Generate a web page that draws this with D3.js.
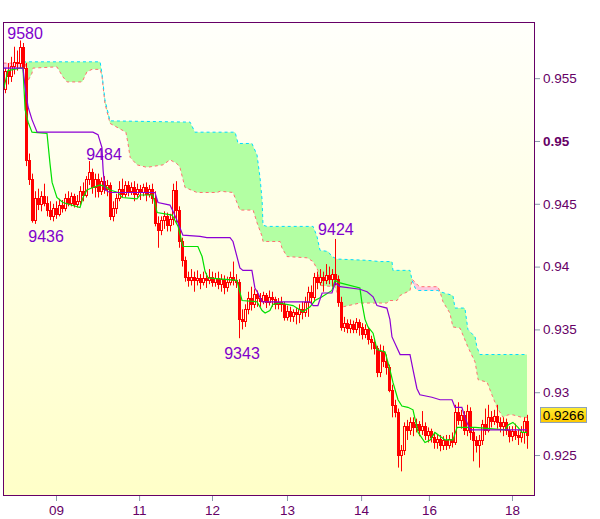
<!DOCTYPE html>
<html><head><meta charset="utf-8">
<script src="https://cdn.jsdelivr.net/npm/d3@7"></script>
<style>body{margin:0;background:#fff;} svg{display:block;font-family:"Liberation Sans",Arial,sans-serif;}</style>
</head><body><svg id="c" width="600" height="519"></svg>
<script>
// ---- data (prices in pips, i.e. price x 10000) ----
const openPips = [9541,9556,9552,9560,9563,9562,9575,9558,9485,9470,9437,9455,9450,9456,9451,9445,9440,9447,9442,9449,
9447,9455,9451,9456,9450,9452,9460,9457,9470,9475,9463,9470,9460,9468,9462,9465,9440,9447,9455,9462,
9458,9465,9460,9463,9458,9462,9459,9463,9458,9462,9455,9435,9429,9437,9440,9433,9438,9461,9445,9420,
9405,9392,9389,9392,9389,9391,9388,9391,9389,9392,9388,9391,9386,9390,9384,9388,9392,9389,9388,9358,
9357,9366,9375,9370,9378,9375,9373,9377,9372,9376,9374,9370,9372,9370,9360,9365,9361,9364,9362,9366,
9364,9372,9380,9376,9392,9388,9392,9389,9393,9390,9394,9390,9372,9352,9355,9351,9354,9350,9356,9352,
9346,9350,9342,9340,9335,9316,9333,9325,9320,9302,9290,9284,9250,9254,9273,9270,9276,9272,9275,9270,
9273,9266,9269,9264,9260,9263,9258,9262,9258,9263,9260,9284,9278,9282,9270,9285,9268,9262,9258,9262,
9275,9270,9280,9277,9281,9276,9273,9276,9270,9265,9269,9266,9264,9268,9277];
const highPips = [9558,9562,9567,9575,9572,9580,9578,9562,9490,9474,9460,9462,9460,9466,9456,9452,9450,9452,9454,9453,
9458,9460,9459,9458,9457,9464,9467,9472,9484,9478,9474,9474,9471,9472,9469,9467,9452,9458,9468,9470,
9468,9468,9467,9468,9466,9465,9466,9467,9465,9466,9460,9440,9440,9444,9443,9442,9466,9468,9448,9423,
9408,9396,9398,9396,9397,9394,9396,9395,9398,9396,9395,9396,9394,9393,9392,9396,9404,9394,9390,9366,
9370,9380,9384,9382,9381,9379,9380,9379,9381,9380,9376,9375,9376,9372,9369,9368,9366,9367,9370,9372,
9376,9384,9385,9395,9396,9398,9396,9402,9400,9398,9422,9393,9376,9360,9358,9358,9357,9359,9358,9355,
9354,9352,9345,9343,9337,9338,9337,9330,9322,9306,9294,9287,9258,9276,9278,9280,9280,9279,9277,9285,
9276,9272,9271,9268,9266,9266,9265,9266,9266,9268,9290,9292,9286,9285,9290,9288,9272,9265,9266,9278,
9287,9290,9285,9286,9290,9280,9280,9279,9273,9273,9275,9270,9273,9280,9282];
const lowPips = [9538,9545,9547,9553,9556,9558,9548,9480,9465,9435,9434,9445,9444,9448,9440,9437,9436,9438,9440,9443,
9444,9448,9448,9447,9447,9449,9452,9455,9465,9458,9455,9455,9457,9458,9456,9437,9436,9442,9452,9455,
9455,9456,9457,9452,9455,9453,9456,9452,9455,9450,9432,9415,9425,9430,9428,9428,9433,9435,9415,9400,
9388,9384,9385,9380,9385,9382,9385,9383,9386,9384,9384,9382,9380,9378,9380,9385,9385,9383,9343,9350,
9352,9362,9365,9367,9368,9368,9370,9367,9369,9368,9366,9366,9364,9357,9357,9356,9356,9354,9355,9358,
9360,9360,9371,9373,9382,9385,9380,9386,9386,9384,9385,9368,9349,9348,9347,9347,9347,9347,9345,9342,
9343,9338,9334,9330,9312,9312,9320,9314,9300,9280,9280,9240,9237,9250,9262,9266,9265,9268,9265,9266,
9262,9260,9260,9255,9255,9253,9254,9254,9255,9256,9258,9274,9271,9266,9265,9262,9245,9252,9240,9258,
9266,9268,9272,9274,9271,9268,9265,9266,9260,9261,9262,9258,9260,9259,9255];
const closePips = [9556,9552,9560,9563,9562,9575,9558,9485,9470,9437,9455,9450,9456,9451,9445,9440,9447,9442,9449,9447,
9455,9451,9456,9450,9452,9460,9457,9470,9475,9463,9470,9460,9468,9462,9465,9440,9447,9455,9462,9458,
9465,9460,9463,9458,9462,9459,9463,9458,9462,9455,9435,9429,9437,9440,9433,9438,9461,9445,9420,9405,
9392,9389,9392,9389,9391,9388,9391,9389,9392,9388,9391,9386,9390,9384,9388,9392,9389,9388,9358,9357,
9366,9375,9370,9378,9375,9373,9377,9372,9376,9374,9370,9372,9370,9360,9365,9361,9364,9362,9366,9364,
9372,9380,9376,9392,9388,9392,9389,9393,9390,9394,9390,9372,9352,9355,9351,9354,9350,9356,9352,9346,
9350,9342,9340,9335,9316,9333,9325,9320,9302,9290,9284,9250,9254,9273,9270,9276,9272,9275,9270,9273,
9266,9269,9264,9260,9263,9258,9262,9258,9263,9260,9284,9278,9282,9270,9285,9268,9262,9258,9262,9275,
9270,9280,9277,9281,9276,9273,9276,9270,9265,9269,9266,9264,9268,9277,9266];

// indicator lines: [bar index, pips]
const tenkanPts = [[-0.5,9541],[1,9556],[5,9558],[6,9558],[6.7,9525],[7.7,9515],[9,9507],[14,9506],[15,9482],[15.7,9467],
[17.3,9455],[19.3,9451],[25,9447],[26,9455],[27.3,9461],[29.3,9463],[31.7,9465],[34,9463],[35,9461],[37.7,9459],[39,9455],
[44,9454],[45,9457],[49.3,9457],[50.7,9443],[55.7,9441],[57.7,9432],[59.3,9416],[64.3,9416],[65.7,9408],[66.7,9396],
[67.7,9391],[77.3,9389],[79,9373],[84,9372],[85.7,9365],[86.7,9363],[88.3,9365],[89.3,9370],[91.7,9371],[96,9369],
[99.3,9364],[101.7,9368],[103.3,9373],[105.7,9376],[109,9381],[110,9389],[111.7,9387],[118.3,9383],[119,9371],[120,9358],
[121,9352],[122.7,9347],[124,9334],[126.7,9332],[128.3,9318],[129.3,9308],[131,9294],[132.3,9289],[134.3,9288],[136,9286],
[137.7,9268],[140,9260],[141.7,9262],[143.3,9268],[145,9265],[146.7,9262],[149.3,9262],[150.7,9272],[156.7,9272],
[166.7,9270],[167.7,9274],[169.3,9276],[171,9272],[172.3,9268],[174,9268]];
const kijunPts = [[-0.5,9558],[6,9558],[6.7,9543],[7.7,9527],[9,9517],[10.7,9507],[29.3,9507],[31,9505],[32.3,9495],
[32.7,9477],[33.3,9461],[35,9459],[50,9459],[51,9451],[55,9449],[56,9444],[57.3,9437],[59.3,9425],[65,9424],[67.3,9423],
[75,9423],[76,9420],[78.3,9399],[79.3,9397],[82.3,9397],[83.3,9383],[84.3,9379],[85.7,9372],[101.7,9372],[102.7,9369],
[104.3,9369],[105.7,9379],[109,9379],[110,9387],[111.7,9384],[118.3,9382],[120.7,9380],[122.7,9376],[124,9369],
[127.3,9367],[128.3,9358],[129,9344],[131.7,9330],[135,9330],[136,9318],[137.3,9303],[138.3,9298],[142.3,9296],
[145,9294],[149,9294],[150,9288],[152.3,9288],[153.3,9280],[155,9270],[174,9270]];
const spanAPts = [[-0.5,9558],[6,9558],[6.7,9563],[31.7,9563],[32.3,9554],[33.3,9533],[35,9516],[61.7,9515],[63.3,9507],
[76.7,9507],[77.7,9498],[82.3,9498],[84,9489],[85,9471],[85.7,9453],[86,9433],[87.3,9432],[102.7,9432],[104,9424],
[105,9413],[107.7,9412],[109,9408],[110.7,9406],[120.7,9405],[125,9404],[129,9404],[129.3,9397],[135,9397],[135.7,9389],
[136.7,9383],[137.7,9381],[144.3,9381],[145,9380],[149.3,9377],[150,9367],[153.3,9367],[154.3,9350],[156.7,9344],
[157.3,9336],[158.3,9330],[174,9330]];
const spanBPts = [[-0.5,9562],[6,9562],[6.7,9563],[7.7,9548],[9,9554],[9.3,9558],[17.3,9559],[19.3,9551],[20.7,9547],
[25.7,9547],[27.3,9555],[29,9557],[31.7,9557],[32.3,9552],[33.3,9530],[35,9514],[40.3,9507],[41,9498],[41.7,9487],
[44,9481],[47.3,9479],[52.7,9481],[55,9485],[57.3,9482],[58.3,9479],[60,9463],[64,9459],[70.7,9459],[71.7,9460],
[76,9459],[77.3,9451],[78.3,9445],[82.7,9445],[84,9435],[85.7,9424],[86,9420],[91.7,9420],[92.3,9415],[94,9408],
[100.7,9407],[102.7,9404],[104.3,9397],[105,9385],[110,9384],[111.7,9373],[112.7,9368],[118.3,9371],[127.3,9371],
[128.3,9373],[130.7,9373],[131.7,9377],[135,9381],[135.7,9390],[137.7,9385],[138.3,9384],[144.3,9384],[145,9380],
[146,9372],[148.3,9363],[149.3,9352],[151.7,9351],[154.3,9336],[156.7,9324],[157.7,9310],[160.7,9308],[162.3,9298],
[164,9288],[166,9280],[167.7,9282],[169.3,9282],[172.3,9280],[174,9280]];

const yTicks = [0.925,0.93,0.935,0.94,0.945,0.95,0.955];
const xTickIdx = [17,44.7,69,94,118.7,141.3,169];
const xTickLabels = ["09","11","12","13","14","16","18"];
// annotations: text, bar index (centre), price, vertical offset direction
const annText = ["9580","9484","9436","9424","9343"];
const annIdx = [6.7,33,13.7,110.3,79];
const annPips = [9580,9484,9436,9424,9343];
const annBelow = [false,false,true,false,true];
const lastPrice = 0.9266;

// ---- drawing ----
const P = 1e-4;
const L = 3, T = 22, R = 535, B = 496;
const svg = d3.select("#c");
const x = d3.scaleLinear().domain([-0.667, 176.667]).range([L, R]);
const y = d3.scaleLinear().domain([0.92174, 0.95947]).range([B, T]);

const defs = svg.append("defs");
const bg = defs.append("linearGradient").attr("id","bg").attr("gradientUnits","userSpaceOnUse")
  .attr("x1",0).attr("y1",T).attr("x2",0).attr("y2",B);
bg.append("stop").attr("offset","0").attr("stop-color","#fffffb");
bg.append("stop").attr("offset","1").attr("stop-color","#ffffc8");
const gold = defs.append("linearGradient").attr("id","gold").attr("x1",0).attr("y1",0).attr("x2",0).attr("y2",1);
gold.append("stop").attr("offset","0").attr("stop-color","#ffee33");
gold.append("stop").attr("offset","1").attr("stop-color","#ffc800");
defs.append("clipPath").attr("id","plot").append("rect").attr("x",L).attr("y",T).attr("width",R-L).attr("height",B-T);

const lineOf = d3.line().x(d=>x(d[0])).y(d=>y(d[1]*P));
const aboveArea = d3.area().x(d=>x(d[0])).y0(T).y1(d=>y(d[1]*P));
const belowArea = d3.area().x(d=>x(d[0])).y0(B).y1(d=>y(d[1]*P));
defs.append("clipPath").attr("id","aboveB").append("path").attr("d", aboveArea(spanBPts));
defs.append("clipPath").attr("id","aboveA").append("path").attr("d", aboveArea(spanAPts));

svg.append("rect").attr("x",L).attr("y",T).attr("width",R-L).attr("height",B-T).attr("fill","url(#bg)");

const g = svg.append("g").attr("clip-path","url(#plot)");
g.append("path").attr("d", belowArea(spanAPts)).attr("fill","#b3ffa3").attr("clip-path","url(#aboveB)");
g.append("path").attr("d", belowArea(spanBPts)).attr("fill","#ffc8de").attr("clip-path","url(#aboveA)");
g.append("path").attr("d", lineOf(spanBPts)).attr("fill","none").attr("stroke","#ff6f6f").attr("stroke-width",1).attr("stroke-dasharray","3,3");
g.append("path").attr("d", lineOf(spanAPts)).attr("fill","none").attr("stroke","#00dcff").attr("stroke-width",1).attr("stroke-dasharray","3,3");

const bars = d3.range(closePips.length).map(i => ({i, o:openPips[i]*P, h:highPips[i]*P, l:lowPips[i]*P, c:closePips[i]*P}));
const cg = g.append("g");
bars.forEach(d => {
  const cx = Math.round(x(d.i)) + 0.5;
  cg.append("line").attr("x1",cx).attr("x2",cx).attr("y1",y(d.h)).attr("y2",y(d.l)).attr("stroke","#ff0000").attr("stroke-width",1);
  const top = Math.round(y(Math.max(d.o,d.c))), bot = Math.round(y(Math.min(d.o,d.c)));
  cg.append("rect").attr("x",cx-1).attr("y",top+0.5).attr("width",2).attr("height",Math.max(1,bot-top))
    .attr("fill", d.c < d.o ? "#ff0000" : "url(#bg)").attr("stroke","#ff0000").attr("stroke-width",1);
});

g.append("path").attr("d", lineOf(tenkanPts)).attr("fill","none").attr("stroke","#00e000").attr("stroke-width",1.2);
g.append("path").attr("d", lineOf(kijunPts)).attr("fill","none").attr("stroke","#8c00d4").attr("stroke-width",1.2);

// annotations
annText.forEach((t,k) => {
  const yy = y(annPips[k]*P) + (annBelow[k] ? 21 : -1);
  svg.append("text").attr("x", x(annIdx[k])).attr("y", yy).attr("text-anchor","middle")
    .attr("font-size",16).attr("fill","#8000cc").text(t);
});

// frame
svg.append("rect").attr("x",L+0.5).attr("y",T+0.5).attr("width",R-L-1).attr("height",B-T-1)
  .attr("fill","none").attr("stroke","#660066").attr("stroke-width",1);

// axes
const ya = svg.append("g").attr("transform",`translate(${R},0)`)
  .call(d3.axisRight(y).tickValues(yTicks).tickSize(5).tickPadding(3).tickFormat(d => String(+d.toFixed(3))));
ya.select(".domain").remove();
ya.selectAll(".tick line").attr("stroke","#8899aa");
ya.selectAll(".tick text").attr("fill","#660066").attr("font-size",13.5).attr("font-family","Liberation Sans, Arial, sans-serif")
  .attr("font-weight", d => d === 0.95 ? "bold" : "normal");

const xa = svg.append("g").attr("transform",`translate(0,${B})`)
  .call(d3.axisBottom(x).tickValues(xTickIdx).tickSize(5).tickPadding(4).tickFormat((d,i) => xTickLabels[i]));
xa.select(".domain").remove();
xa.selectAll(".tick line").attr("stroke","#8899aa");
xa.selectAll(".tick text").attr("fill","#660066").attr("font-size",13.5).attr("font-family","Liberation Sans, Arial, sans-serif");

// last price label
const ly = y(lastPrice) - 20.5;
svg.append("rect").attr("x",540.5).attr("y",Math.round(ly-7.5)+0.5).attr("width",46).attr("height",15)
  .attr("fill","url(#gold)").attr("stroke","#8ea2b8");
svg.append("text").attr("x",563.5).attr("y",Math.round(ly-7.5)+12.5).attr("text-anchor","middle")
  .attr("font-size",13.5).attr("fill","#000").text(String(lastPrice));
</script></body></html>
